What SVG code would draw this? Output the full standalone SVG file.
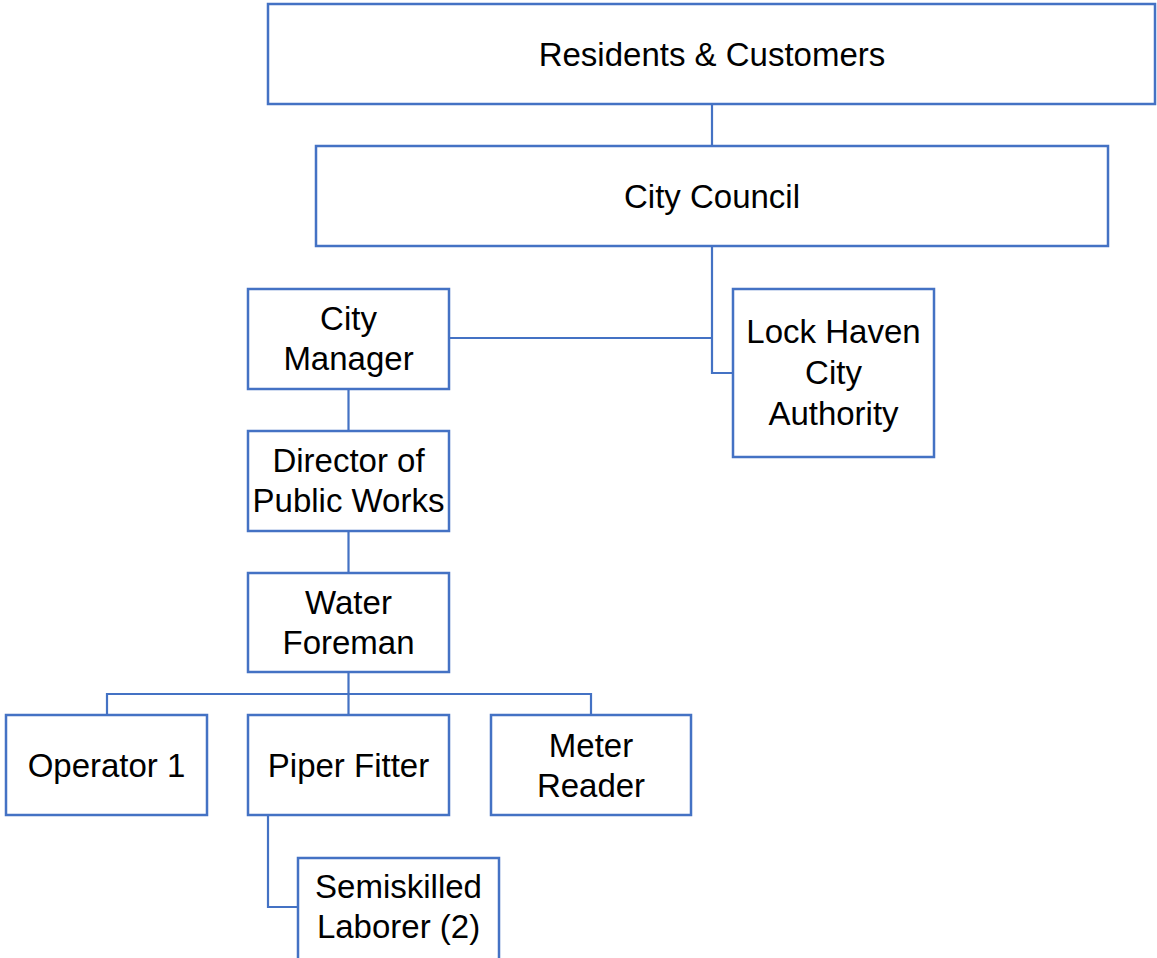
<svg xmlns="http://www.w3.org/2000/svg" width="1157" height="958" viewBox="0 0 1157 958">
<style>
.box{fill:#fff;stroke:#4472C4;stroke-width:2.5}
.con{fill:none;stroke:#4472C4;stroke-width:2.2}
text{font-family:"Liberation Sans",Arial,sans-serif;font-size:33px;fill:#000;text-anchor:middle}
</style>
<rect width="1157" height="958" fill="#fff"/>
<g id="connectors">
<path class="con" d="M712 104V146"/>
<path class="con" d="M712 246V373H733"/>
<path class="con" d="M449 338H712"/>
<path class="con" d="M348.5 389V431"/>
<path class="con" d="M348.5 531V573"/>
<path class="con" d="M348.5 672V715"/>
<path class="con" d="M107 715V694H591V715"/>
<path class="con" d="M268 815V907H298"/>
</g>
<g id="residents"><rect class="box" x="268" y="4" width="887" height="100"/><text x="712" y="66">Residents &amp; Customers</text></g>
<g id="council"><rect class="box" x="316" y="146" width="792" height="100"/><text x="712" y="208">City Council</text></g>
<g id="manager"><rect class="box" x="248" y="289" width="201" height="100"/><text x="348.5" y="330">City</text><text x="348.5" y="370">Manager</text></g>
<g id="authority"><rect class="box" x="733" y="289" width="201" height="168"/><text x="833.5" y="343">Lock Haven</text><text x="833.5" y="384">City</text><text x="833.5" y="425">Authority</text></g>
<g id="director"><rect class="box" x="248" y="431" width="201" height="100"/><text x="348.5" y="472">Director of</text><text x="348.5" y="512">Public Works</text></g>
<g id="foreman"><rect class="box" x="248" y="573" width="201" height="99"/><text x="348.5" y="614">Water</text><text x="348.5" y="654">Foreman</text></g>
<g id="operator"><rect class="box" x="6" y="715" width="201" height="100"/><text x="106.5" y="777">Operator 1</text></g>
<g id="fitter"><rect class="box" x="248" y="715" width="201" height="100"/><text x="348.5" y="777">Piper Fitter</text></g>
<g id="meter"><rect class="box" x="491" y="715" width="200" height="100"/><text x="591" y="757">Meter</text><text x="591" y="797">Reader</text></g>
<g id="laborer"><rect class="box" x="298" y="858" width="201" height="102"/><text x="398.5" y="898">Semiskilled</text><text x="398.5" y="938">Laborer (2)</text></g>
</svg>
